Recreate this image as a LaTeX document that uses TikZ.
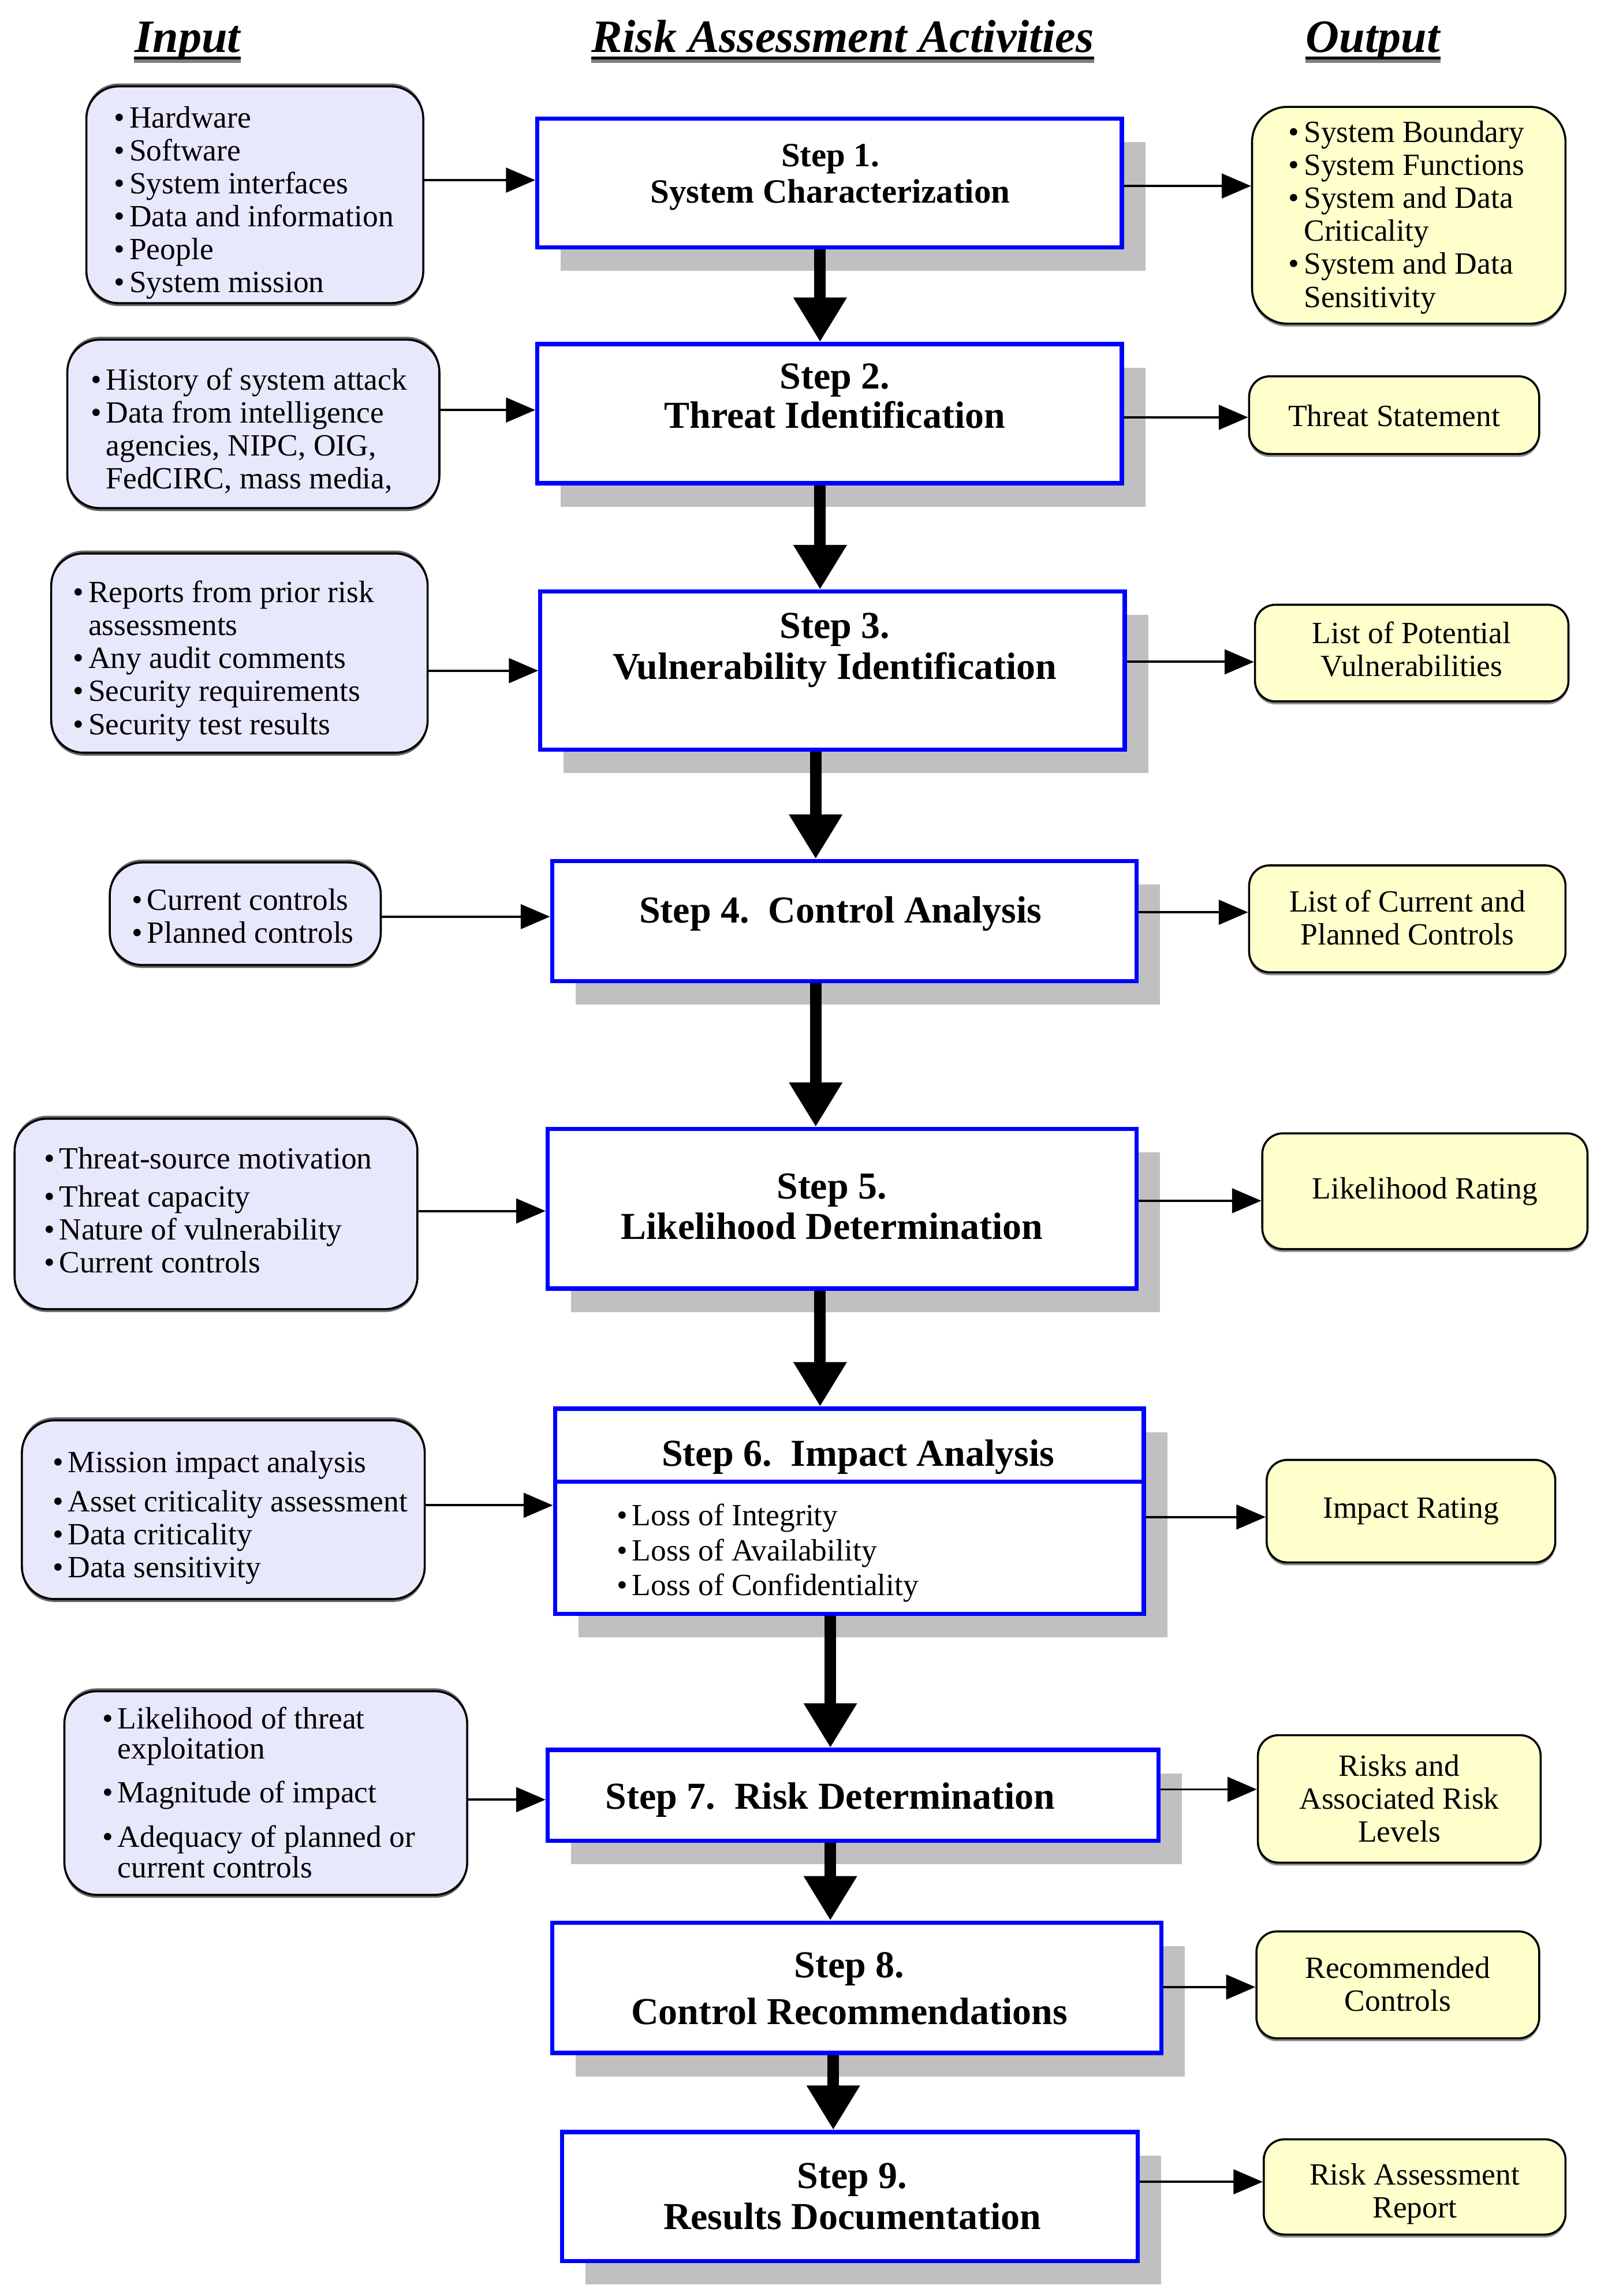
\documentclass[tikz,border=0pt]{standalone}
\usepackage{fontspec}
\setmainfont{Liberation Serif}
\usetikzlibrary{arrows.meta,shadows}
\definecolor{lav}{RGB}{232,232,252}
\definecolor{yel}{RGB}{255,255,204}
\definecolor{shd}{RGB}{192,192,192}
\definecolor{stepblue}{RGB}{0,0,255}
\newcommand\bitem{\makebox[2.6mm][l]{\textbullet}}
\newcommand\cont{\hspace*{2.6mm}}
\newcommand\blist[3][0mm]{\raisebox{-#1}[\height][\depth]{\makebox[#2][l]{\begin{tabular}{@{}l@{}}#3\end{tabular}}}}
\newcommand\clines[2][0mm]{\raisebox{-#1}[\height][\depth]{\begin{tabular}{@{}c@{}}#2\end{tabular}}}
\newcommand\rfont{\fontsize{15}{16}\selectfont}
\newcommand\hfont{\fontsize{22.5}{26}\selectfont\bfseries\itshape}
\begin{document}
\begin{tikzpicture}[x=0.025cm, y=-0.025cm,
  inbox/.style={draw=black, line width=1pt, fill=lav, rounded corners=5.5mm, font=\rfont,
    general shadow={shadow yshift=-0.5mm, fill=black!60},
    general shadow={shadow yshift=0.5mm, fill=black!60}},
  outbox/.style={draw=black, line width=1pt, fill=yel, rounded corners=3.5mm, font=\rfont, align=center,
    general shadow={shadow yshift=-0.5mm, fill=black!45}},
  stepbox/.style={draw=stepblue, line width=2pt, fill=white, inner sep=0pt,
    drop shadow={shadow xshift=4mm, shadow yshift=-4mm, fill=shd, opacity=1}},
  steptext/.style={align=center, inner sep=0pt},
  hdr/.style={font=\hfont, inner sep=0pt},
  harrow/.style={-{Triangle[length=5mm,width=4.2mm]}, line width=1.1pt},
  varrow/.style={-{Triangle[length=7.6mm,width=8.6mm]}, line width=5.6pt}]
\useasboundingbox (0,0) rectangle (1098,1568);

% headers
\node[hdr, anchor=base] (h1) at (128,35.5) {Input};
\node[hdr, anchor=base] (h2) at (575.5,35.5) {Risk Assessment Activities};
\node[hdr, anchor=base] (h3) at (937.5,35.5) {Output};
\foreach \h in {h1,h2,h3} {
  \draw[black!50, line width=1.6pt] ([yshift=-1.6mm]\h.base west) -- ([yshift=-1.6mm]\h.base east);
  \draw[black, line width=1.6pt] ([yshift=-1.02mm]\h.base west) -- ([yshift=-1.02mm]\h.base east);
}

% input boxes
\node[inbox, minimum width=57.5mm, minimum height=37mm, inner xsep=4.75mm] (i1) at (174,133)
  {\blist[1.5mm]{48mm}{\bitem Hardware\\ \bitem Software\\ \bitem System interfaces\\ \bitem Data and information\\ \bitem People\\ \bitem System mission}};
\node[inbox, minimum width=63.5mm, minimum height=28.75mm, inner xsep=4mm] (i2) at (173,289.5)
  {\blist[1.5mm]{55.5mm}{\bitem History of system attack\\ \bitem Data from intelligence\\ \cont agencies, NIPC, OIG,\\ \cont FedCIRC, mass media,}};
\node[inbox, minimum width=64.25mm, minimum height=34mm, inner xsep=3.75mm] (i3) at (163.5,446)
  {\blist[1.5mm]{56.75mm}{\bitem Reports from prior risk\\ \cont assessments\\ \bitem Any audit comments\\ \bitem Security requirements\\ \bitem Security test results}};
\node[inbox, minimum width=46.25mm, minimum height=17.5mm, inner xsep=3.75mm] (i4) at (167.5,624)
  {\blist[1.1mm]{38.75mm}{\bitem Current controls\\ \bitem Planned controls}};
\node[inbox, minimum width=68.75mm, minimum height=32.5mm, inner xsep=5mm] (i5) at (147.5,829)
  {\blist{58.75mm}{\bitem Threat-source motivation\\[2.5pt] \bitem Threat capacity\\ \bitem Nature of vulnerability\\ \bitem Current controls}};
\node[inbox, minimum width=68.75mm, minimum height=30.5mm, inner xsep=5.25mm] (i6) at (152.5,1031)
  {\blist[1.5mm]{58.25mm}{\bitem Mission impact analysis\\[3pt] \bitem Asset criticality assessment\\ \bitem Data criticality\\ \bitem Data sensitivity}};
\node[inbox, minimum width=68.75mm, minimum height=34.75mm, inner xsep=6.5mm] (i7) at (181.5,1224.5)
  {\fontsize{15}{14}\selectfont\blist[0.6mm]{55.75mm}{\bitem Likelihood of threat\\ \cont exploitation\\[6.5pt] \bitem Magnitude of impact\\[7pt] \bitem Adequacy of planned or\\ \cont current controls}};

% step boxes
\node[stepbox, minimum width=99.75mm, minimum height=22mm] (s1) at (566.5,125) {};
\node[steptext, font=\fontsize{16.5}{17.7}\selectfont\bfseries] (s1t) at (567,121) {Step 1.\\System Characterization};
\node[stepbox, minimum width=99.75mm, minimum height=23.75mm] (s2) at (566.5,282.5) {};
\node[steptext, font=\fontsize{18.5}{19}\selectfont\bfseries] (s2t) at (570,270.5) {Step 2.\\Threat Identification};
\node[stepbox, minimum width=99.75mm, minimum height=27mm] (s3) at (568.5,458) {};
\node[steptext, font=\fontsize{18.5}{19.8}\selectfont\bfseries] (s3t) at (570,444) {Step 3.\\Vulnerability Identification};
\node[stepbox, minimum width=99.75mm, minimum height=20.5mm] (s4) at (576.5,629) {};
\node[steptext, font=\fontsize{18.5}{20}\selectfont\bfseries] (s4t) at (574,624) {Step 4.~~Control Analysis};
\node[stepbox, minimum width=100.5mm, minimum height=27.25mm] (s5) at (575,825.5) {};
\node[steptext, font=\fontsize{18.5}{19.8}\selectfont\bfseries] (s5t) at (568,824) {Step 5.\\Likelihood Determination};
\node[stepbox, minimum width=100.5mm, minimum height=35mm] (s6) at (580,1032) {};
\node[steptext, font=\fontsize{18.5}{20}\selectfont\bfseries] (s6t) at (586,995) {Step 6.~~Impact Analysis};
\node[anchor=west, inner sep=0pt, font=\fontsize{15}{17}\selectfont] (s6b) at (421,1061)
  {\blist{80mm}{\bitem Loss of Integrity\\ \bitem Loss of Availability\\ \bitem Loss of Confidentiality}};
\coordinate (dv) at (0,1012);
\draw[stepblue, line width=2pt] (s6.west |- dv) -- (s6.east |- dv);
\node[stepbox, minimum width=104.25mm, minimum height=15.5mm] (s7) at (582.5,1226) {};
\node[steptext, font=\fontsize{18.5}{20}\selectfont\bfseries] (s7t) at (567,1229) {Step 7.~~Risk Determination};
\node[stepbox, minimum width=104mm, minimum height=22.25mm] (s8) at (585,1357.5) {};
\node[steptext, font=\fontsize{18.5}{22.7}\selectfont\bfseries] (s8t) at (580,1358) {Step 8.\\Control Recommendations};
\node[stepbox, minimum width=98.25mm, minimum height=22mm] (s9) at (580.5,1500) {};
\node[steptext, font=\fontsize{18.5}{19.8}\selectfont\bfseries] (s9t) at (582,1500) {Step 9.\\Results Documentation};

% output boxes
\node[outbox, rounded corners=6mm, minimum width=53.5mm, minimum height=37mm, inner xsep=6.25mm] (o1) at (962,147)
  {\blist[0.5mm]{41mm}{\bitem System Boundary\\ \bitem System Functions\\ \bitem System and Data\\ \cont Criticality\\ \bitem System and Data\\ \cont Sensitivity}};
\node[outbox, minimum width=49.5mm, minimum height=13.25mm] (o2) at (952,283.5) {\clines[0.8mm]{Threat Statement}};
\node[outbox, minimum width=53.5mm, minimum height=16.5mm] (o3) at (964,446) {\clines{List of Potential\\Vulnerabilities}};
\node[outbox, minimum width=54mm, minimum height=18.25mm] (o4) at (961,627.5) {\clines[0.5mm]{List of Current and\\Planned Controls}};
\node[outbox, minimum width=55.5mm, minimum height=19.75mm] (o5) at (973,813.5) {Likelihood Rating};
\node[outbox, minimum width=49.25mm, minimum height=17.5mm] (o6) at (963.5,1032) {Impact Rating};
\node[outbox, minimum width=48.25mm, minimum height=21.75mm] (o7) at (955.5,1228.5) {\clines[0.6mm]{Risks and\\Associated Risk\\Levels}};
\node[outbox, minimum width=48.25mm, minimum height=18.25mm] (o8) at (954.5,1355.5) {\clines[0.5mm]{Recommended\\Controls}};
\node[outbox, minimum width=51.5mm, minimum height=16.25mm] (o9) at (966,1493.5) {\clines[1.3mm]{Risk Assessment\\Report}};

% input arrows
\coordinate (a1) at (0,123);
\coordinate (a2) at (0,280);
\coordinate (a3) at (0,458);
\coordinate (a4) at (0,626);
\coordinate (a5) at (0,827);
\coordinate (a6) at (0,1028);
\coordinate (a7) at (0,1229);
\foreach \k in {1,...,7} {
  \draw[harrow] (i\k.east |- a\k) -- (s\k.west |- a\k);
}
% output arrows
\coordinate (b1) at (0,127);
\coordinate (b2) at (0,285);
\coordinate (b3) at (0,452);
\coordinate (b4) at (0,623);
\coordinate (b5) at (0,820);
\coordinate (b6) at (0,1036);
\coordinate (b7) at (0,1222);
\coordinate (b8) at (0,1357);
\coordinate (b9) at (0,1490);
\foreach \k in {1,...,9} {
  \draw[harrow] (s\k.east |- b\k) -- (o\k.west |- b\k);
}
% vertical flow
\coordinate (v1) at (560,0);
\coordinate (v2) at (560,0);
\coordinate (v3) at (557,0);
\coordinate (v4) at (557,0);
\coordinate (v5) at (560,0);
\coordinate (v6) at (567,0);
\coordinate (v7) at (567,0);
\coordinate (v8) at (569,0);
\draw[varrow] (s1.south -| v1) -- (s2.north -| v1);
\draw[varrow] (s2.south -| v2) -- (s3.north -| v2);
\draw[varrow] (s3.south -| v3) -- (s4.north -| v3);
\draw[varrow] (s4.south -| v4) -- (s5.north -| v4);
\draw[varrow] (s5.south -| v5) -- (s6.north -| v5);
\draw[varrow] (s6.south -| v6) -- (s7.north -| v6);
\draw[varrow] (s7.south -| v7) -- (s8.north -| v7);
\draw[varrow] (s8.south -| v8) -- (s9.north -| v8);
\end{tikzpicture}
\end{document}
